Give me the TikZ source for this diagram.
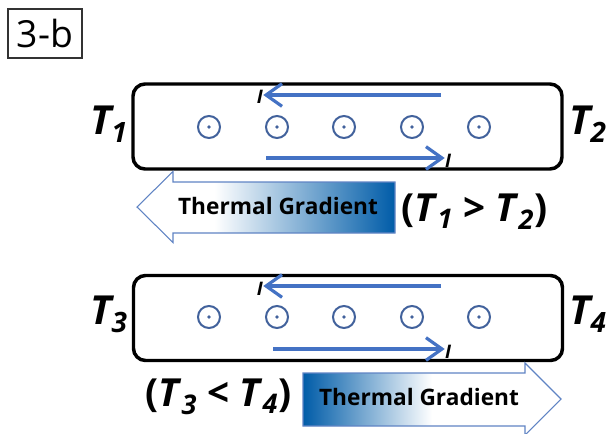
\documentclass[tikz,border=0pt]{standalone}
\usepackage{fontspec}
\setmainfont{Open Sans}
\usepackage{tikz}
\usetikzlibrary{arrows.meta}
\definecolor{clrI}{RGB}{68,114,196}
\definecolor{clrDot}{RGB}{66,98,156}
\definecolor{clrEdge}{RGB}{96,132,196}
\definecolor{clrDeep}{RGB}{0,92,168}
\pgfdeclarehorizontalshading{gradL}{100bp}{color(0bp)=(white); color(40bp)=(white); color(75bp)=(clrDeep); color(100bp)=(clrDeep)}
\pgfdeclarehorizontalshading{gradR}{100bp}{color(0bp)=(clrDeep); color(25bp)=(clrDeep); color(50bp)=(white); color(100bp)=(white)}
\tikzset{
  tag/.style={draw=black!80,line width=0.9pt,minimum width=74*0.75pt,minimum height=49*0.75pt,
    inner sep=0pt,font=\fontsize{28}{30}\selectfont},
  bar/.style={draw,rounded corners=9pt,line width=2.6pt,minimum width=429*0.75pt,
    minimum height=85*0.75pt,inner sep=0pt},
  spot/.style={circle,draw=clrDot,line width=1.5pt,minimum size=16.5pt,inner sep=0pt,
    path picture={\fill[clrDot] (path picture bounding box.center) circle (1.4pt);}},
  current/.style={clrI,line width=2.4pt,-{Straight Barb[length=12pt,width=17pt,line width=2.4pt]}},
  ilabel/.style={font=\fontsize{14}{15}\selectfont\bfseries\itshape,inner sep=0pt},
  tlabel/.style={font=\fontsize{30}{32}\selectfont\bfseries\itshape,inner sep=0pt},
  relation/.style={font=\fontsize{29}{31}\selectfont\bfseries,inner sep=0pt},
  gradarrow/.style={draw=clrEdge,line width=0.8pt},
  gtext/.style={font=\fontsize{17}{19}\selectfont\bfseries,inner sep=0pt}
}
\begin{document}
\begin{tikzpicture}[x=0.75pt,y=-0.75pt]
  \useasboundingbox (0,0) rectangle (607,433);

  \node[tag] (tag) at (45,33.5) {3-b};

  % upper wire
  \node[bar] (bar1) at (347.5,126.5) {};
  \foreach \x [count=\i] in {209,277,344,412,479}
    \node[spot] (s1\i) at (\x,127) {};
  \node[tlabel,anchor=base east] (t1) at (128,134) {T\textsubscript{1}};
  \node[tlabel,anchor=base west] (t2) at (569,134) {T\textsubscript{2}};
  \node[ilabel,anchor=base] (i1a) at (260,103) {I};
  \node[ilabel,anchor=base] (i1b) at (448,167) {I};
  \coordinate (c1a) at (441,95);
  \coordinate (c1b) at (266,158);
  \draw[current] (c1a) -- (i1a.east |- c1a);
  \draw[current] (c1b) -- (i1b.west |- c1b);

  \shadedraw[gradarrow,shading=gradL]
    (137,207) -- (173,171.5) -- (173,182) -- (395,182) -- (395,233)
    -- (173,233) -- (173,242.5) -- cycle;
  \node[gtext,anchor=base] (g1) at (278,214) {Thermal Gradient};
  \node[relation,anchor=base west] (r1) at (401,221)
    {(\textit{T}\textsubscript{\textit{1}} > \textit{T}\textsubscript{\textit{2}})};

  % lower wire
  \node[bar] (bar2) at (348,318) {};
  \foreach \x [count=\i] in {209,277,344,412,479}
    \node[spot] (s2\i) at (\x,317) {};
  \node[tlabel,anchor=base east] (t3) at (128,324) {T\textsubscript{3}};
  \node[tlabel,anchor=base west] (t4) at (569,324) {T\textsubscript{4}};
  \node[ilabel,anchor=base] (i2a) at (260,295) {I};
  \node[ilabel,anchor=base] (i2b) at (448,358) {I};
  \coordinate (c2a) at (441,286);
  \coordinate (c2b) at (273,349);
  \draw[current] (c2a) -- (i2a.east |- c2a);
  \draw[current] (c2b) -- (i2b.west |- c2b);

  \shadedraw[gradarrow,shading=gradR]
    (303,373) -- (525,373) -- (525,363) -- (561,399) -- (525,435)
    -- (525,426) -- (303,426) -- cycle;
  \node[gtext,anchor=base] (g2) at (419,405) {Thermal Gradient};
  \node[relation,anchor=base west] (r2) at (145,406)
    {(\textit{T}\textsubscript{\textit{3}} < \textit{T}\textsubscript{\textit{4}})};
\end{tikzpicture}
\end{document}
